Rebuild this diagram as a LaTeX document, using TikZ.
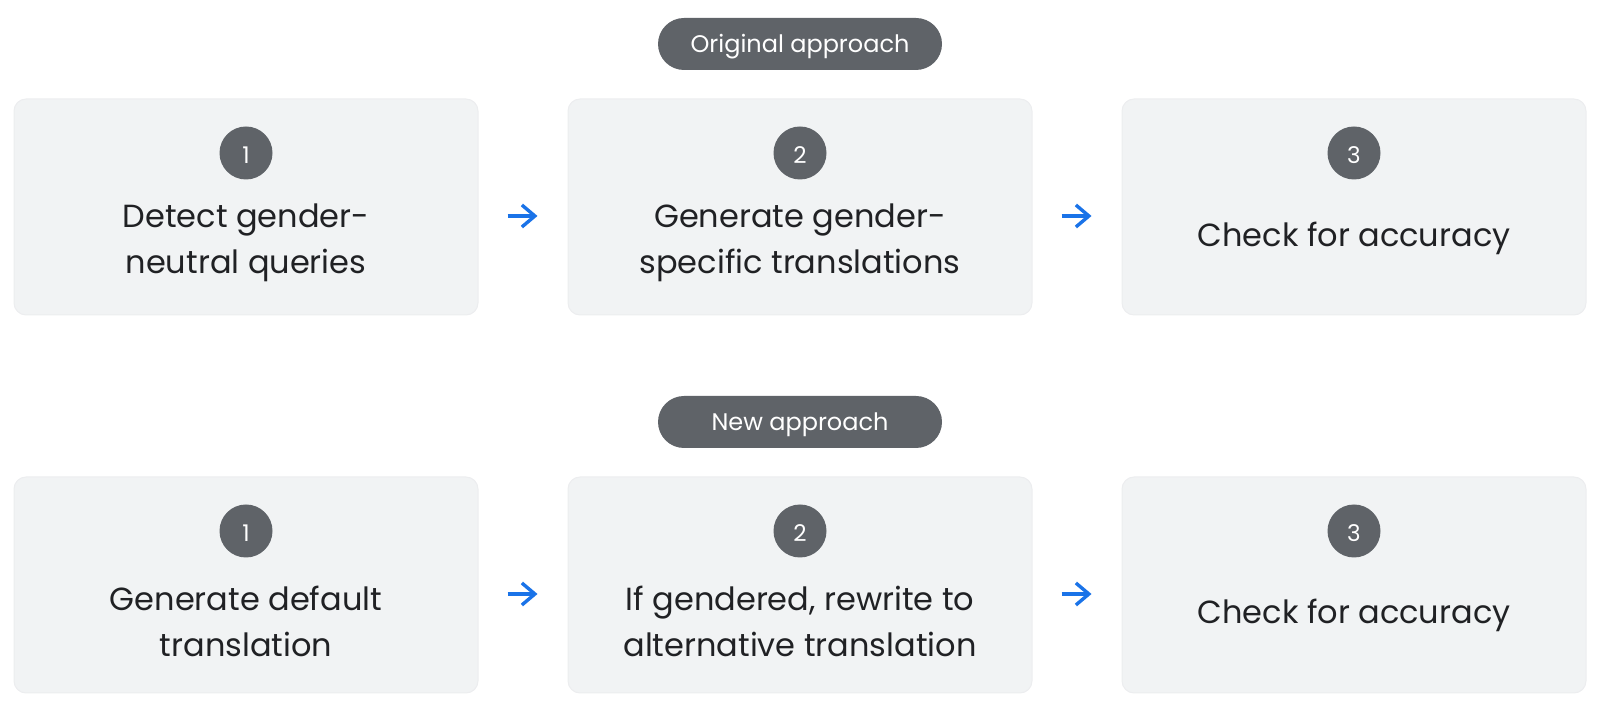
\documentclass[tikz,border=0pt]{standalone}
\usepackage{fontspec}
\setmainfont{Poppins}
\usetikzlibrary{arrows.meta}
\definecolor{boxfill}{HTML}{F1F3F4}
\definecolor{boxedge}{HTML}{ECEDEF}
\definecolor{pillgrey}{HTML}{5F6368}
\definecolor{txt}{HTML}{202124}
\definecolor{gblue}{HTML}{1A73E8}
\tikzset{
  stepbox/.style={fill=boxfill, draw=boxedge, line width=0.5pt, rounded corners=6pt, minimum width=232pt, minimum height=108pt, inner sep=0pt},
  pill/.style={fill=pillgrey, rounded corners=13pt, minimum width=142pt, minimum height=26pt, inner sep=0pt},
  pilltext/.style={text=white, font=\fontsize{12}{13}\selectfont, inner sep=0pt},
  num/.style={circle, fill=pillgrey, minimum size=26.5pt, inner sep=0pt},
  numtext/.style={text=white, font=\fontsize{11.5}{12}\selectfont, inner sep=0pt},
  steptext/.style={align=center, text=txt, font=\fontsize{16}{23}\selectfont, inner sep=0pt},
  arr/.style={draw=gblue, line width=1.7pt, -{Straight Barb[length=6.5pt, width=11pt, line width=1.7pt]}, shorten <=14.5pt, shorten >=15pt}
}
\begin{document}
\begin{tikzpicture}[x=0.5pt,y=-0.5pt]
\useasboundingbox (0,0) rectangle (1600,704);
% row 1
\node[pill] (p1) at (800,44) {};
\node[pilltext] (p1t) at (800,47) {Original approach};
\node[stepbox] (b1) at (246,207) {};
\node[stepbox] (b2) at (800,207) {};
\node[stepbox] (b3) at (1354,207) {};
\node[num] (n1) at (246,153) {};
\node[num] (n2) at (800,153) {};
\node[num] (n3) at (1354,153) {};
\node[numtext] (n1t) at (246,155) {1};
\node[numtext] (n2t) at (800,155) {2};
\node[numtext] (n3t) at (1354,155) {3};
\node[steptext] (t1) at (246,243) {Detect gender-\\neutral queries};
\node[steptext] (t2) at (800,243) {Generate gender-\\specific translations};
\node[steptext] (t3) at (1354,238) {Check for accuracy};
\draw[arr] ([yshift=-4.5pt]b1.east) -- ([yshift=-4.5pt]b2.west);
\draw[arr] ([yshift=-4.5pt]b2.east) -- ([yshift=-4.5pt]b3.west);
% row 2
\node[pill] (p2) at (800,422) {};
\node[pilltext] (p2t) at (800,425) {New approach};
\node[stepbox] (c1) at (246,585) {};
\node[stepbox] (c2) at (800,585) {};
\node[stepbox] (c3) at (1354,585) {};
\node[num] (m1) at (246,531) {};
\node[num] (m2) at (800,531) {};
\node[num] (m3) at (1354,531) {};
\node[numtext] (m1t) at (246,533) {1};
\node[numtext] (m2t) at (800,533) {2};
\node[numtext] (m3t) at (1354,533) {3};
\node[steptext] (u1) at (246,621) {Generate default\\translation};
\node[steptext] (u2) at (800,621) {If gendered, rewrite to\\alternative translation};
\node[steptext] (u3) at (1354,615) {Check for accuracy};
\draw[arr] ([yshift=-4.5pt]c1.east) -- ([yshift=-4.5pt]c2.west);
\draw[arr] ([yshift=-4.5pt]c2.east) -- ([yshift=-4.5pt]c3.west);
\end{tikzpicture}
\end{document}
